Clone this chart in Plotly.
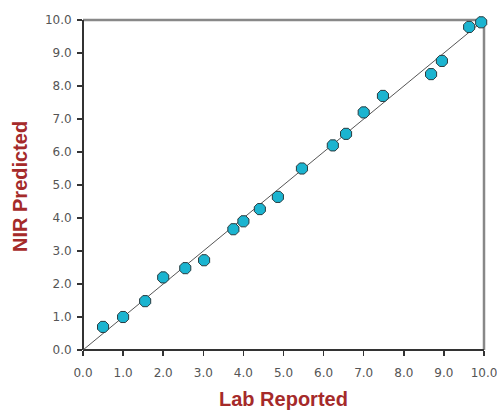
import plotly.graph_objects as go

lab_reported = [0.5, 1.0, 1.55, 2.0, 2.55, 3.02, 3.75, 4.0, 4.41, 4.86, 5.46, 6.23, 6.56, 7.0, 7.48, 8.68, 8.95, 9.63, 9.93]
nir_predicted = [0.7, 1.0, 1.48, 2.2, 2.48, 2.72, 3.66, 3.9, 4.27, 4.64, 5.5, 6.2, 6.55, 7.2, 7.7, 8.36, 8.76, 9.79, 9.93]
line_x = [0.0, 10.0]
line_y = [0.0, 10.0]
tick_vals = [0, 1, 2, 3, 4, 5, 6, 7, 8, 9, 10]
tick_text = ["0.0", "1.0", "2.0", "3.0", "4.0", "5.0", "6.0", "7.0", "8.0", "9.0", "10.0"]

title_font = dict(family="Liberation Sans, Arial", size=20, color="#a52a2a")

fig = go.Figure()
fig.add_trace(go.Scatter(x=line_x, y=line_y, mode="lines",
                         line=dict(color="#555555", width=1), hoverinfo="skip"))
fig.add_trace(go.Scatter(x=lab_reported, y=nir_predicted, mode="markers", cliponaxis=False,
                         marker=dict(symbol="octagon", size=12, color="#1bb4d0",
                                     line=dict(color="#2a3a3e", width=1))))

axis_common = dict(range=[0, 10], tickvals=tick_vals, ticktext=tick_text,
                   showgrid=False, zeroline=False, ticks="outside", ticklen=5,
                   tickwidth=1.5, tickcolor="#333333", automargin=False,
                   ticklabeloverflow="allow",
                   tickfont=dict(family="DejaVu Sans", size=12, color="#555555"),
                   showline=False)

fig.update_layout(
    width=497, height=410,
    margin=dict(l=83, r=13, t=20, b=60),
    paper_bgcolor="white", plot_bgcolor="white",
    showlegend=False,
    xaxis=dict(**axis_common, ticklabelstandoff=7),
    yaxis=dict(**axis_common, ticklabelstandoff=3),
    annotations=[
        dict(text="<b>Lab Reported</b>", xref="paper", yref="paper", x=0.5, y=0,
             yshift=-49, xanchor="center", yanchor="middle", showarrow=False,
             font=title_font),
        dict(text="<b>NIR Predicted</b>", xref="paper", yref="paper", x=0, y=0.494,
             xshift=-63, xanchor="center", yanchor="middle", textangle=-90,
             showarrow=False, font=title_font),
    ],
    shapes=[
        dict(type="line", xref="paper", yref="paper", x0=0, x1=1, y0=1, y1=1,
             line=dict(color="#888888", width=2.5), layer="below"),
        dict(type="line", xref="paper", yref="paper", x0=1, x1=1, y0=0, y1=1,
             line=dict(color="#888888", width=2.5), layer="below"),
        dict(type="line", xref="paper", yref="paper", x0=0, x1=1, y0=0, y1=0,
             line=dict(color="#333333", width=2), layer="below"),
        dict(type="line", xref="paper", yref="paper", x0=0, x1=0, y0=0, y1=1,
             line=dict(color="#333333", width=2), layer="below"),
    ],
)

fig.write_html("out.html",
               config={"displayModeBar": False, "staticPlot": True},
               post_script="document.body.style.margin='0';document.body.style.overflow='hidden';")
